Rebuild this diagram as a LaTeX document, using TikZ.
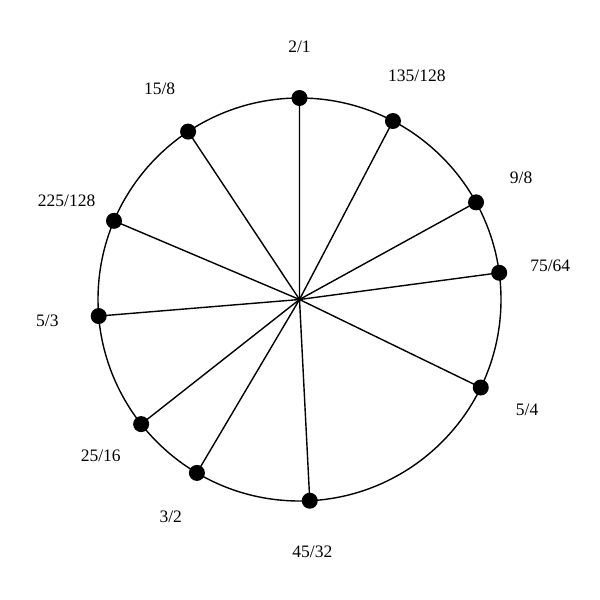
\documentclass[tikz,border=0pt]{standalone}
\usepackage{fontspec}
\setmainfont{Liberation Serif}
\begin{document}
\begin{tikzpicture}[x=1pt,y=-1pt,
  dotnode/.style={circle,fill=black,inner sep=0pt,minimum size=16pt},
  ratiolabel/.style={font=\fontsize{17.5}{20}\selectfont,inner sep=0pt},
  spoke/.style={line width=1.4pt}]
\useasboundingbox (0,0) rectangle (600,600);
\def\cx{299.5}\def\cy{299.5}\def\R{201.5}\def\L{253}
\coordinate (c) at (\cx,\cy);
\draw[line width=1.4pt] (c) circle[radius=\R];
\foreach \n/\num/\den in {a/2/1,b/135/128,c9/9/8,d/75/64,e/5/4,f/45/32,g/3/2,h/25/16,i/5/3,j/225/128,k/15/8}{
  \pgfmathsetmacro\ang{360*ln(\num/\den)/ln(2)}
  \node[dotnode] (p\n) at ({\cx+\R*sin(\ang)},{\cy-\R*cos(\ang)}) {};
  \node[ratiolabel] (l\n) at ({\cx+\L*sin(\ang)},{\cy-\L*cos(\ang)}) {\num/\den};
  \draw[spoke] (c) -- (p\n.center);
}
\end{tikzpicture}
\end{document}
